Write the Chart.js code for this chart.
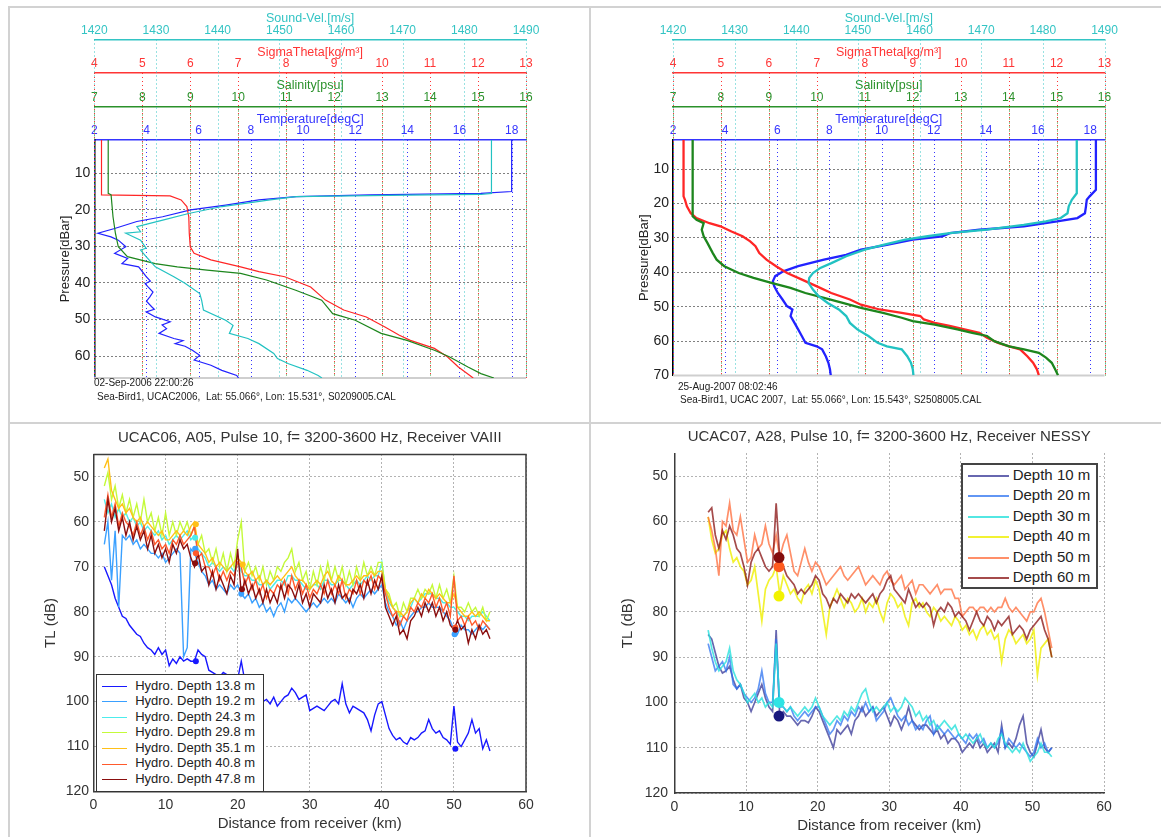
<!DOCTYPE html>
<html lang="en">
<head>
<meta charset="UTF-8" />
<title>CTD profiles and transmission loss</title>
<script src="https://cdn.jsdelivr.net/npm/chart.js@4"></script>
<style>
  body { margin: 0; background: #fff; }
  #page { position: relative; width: 1161px; height: 837px; overflow: hidden; background: #fff;
          font-family: "Liberation Sans", Arial, sans-serif; }
  canvas { position: absolute; }
  .rule { position: absolute; background: #d2d2d2; }
  .note { position: absolute; font-size: 10px; line-height: 12px; color: #222; white-space: pre; }
  .legend { position: absolute; background: #fff; box-sizing: border-box; color: #222; }
  .legend div { white-space: nowrap; }
  .legend .sw { display: inline-block; vertical-align: middle; height: 0; border-top-style: solid; }
  #leg06 { left: 96.3px; top: 674px; width: 167.4px; height: 117.7px; border: 1.5px solid #333; padding-top: 2.5px; }
  #leg06 div { height: 15.6px; line-height: 15.6px; font-size: 13px; }
  #leg06 .sw { width: 25px; margin: 0 7.7px 0 5.2px; border-top-width: 1.5px; }
  #leg07 { left: 961px; top: 462.7px; width: 137.3px; height: 126.3px; border: 2px solid #444; padding-top: 0; }
  #leg07 div { height: 20.5px; line-height: 20.5px; font-size: 15px; }
  #leg07 .sw { width: 41px; margin: 0 3.7px 0 5px; border-top-width: 2.5px; }
</style>
</head>
<body>
<div id="page">
  <canvas id="ctd06" width="589" height="422" style="left:0px;top:0px"></canvas>
  <canvas id="ctd07" width="570" height="422" style="left:591px;top:0px"></canvas>
  <canvas id="tl06" width="589" height="413" style="left:0px;top:424px"></canvas>
  <canvas id="tl07" width="570" height="413" style="left:591px;top:424px"></canvas>

  <div class="note" style="left:94px;top:377px">02-Sep-2006 22:00:26</div>
  <div class="note" style="left:97px;top:391px">Sea-Bird1, UCAC2006,  Lat: 55.066°, Lon: 15.531°, S0209005.CAL</div>
  <div class="note" style="left:678px;top:381px">25-Aug-2007 08:02:46</div>
  <div class="note" style="left:680px;top:394px">Sea-Bird1, UCAC 2007,  Lat: 55.066°, Lon: 15.543°, S2508005.CAL</div>

  <div id="leg06" class="legend"></div>
  <div id="leg07" class="legend"></div>

  <div class="rule" style="left:8px;top:6px;width:1153px;height:2px"></div>
  <div class="rule" style="left:8px;top:6px;width:2px;height:831px"></div>
  <div class="rule" style="left:589px;top:6px;width:2px;height:831px"></div>
  <div class="rule" style="left:8px;top:422px;width:1153px;height:2px"></div>
</div>

<script>
// ---------- tick values ----------
const sndTicks = [1420, 1430, 1440, 1450, 1460, 1470, 1480, 1490];
const sigTicks = [4, 5, 6, 7, 8, 9, 10, 11, 12, 13];
const salTicks = [7, 8, 9, 10, 11, 12, 13, 14, 15, 16];
const temTicks = [2, 4, 6, 8, 10, 12, 14, 16, 18];
const p06Ticks = [10, 20, 30, 40, 50, 60];
const p07Ticks = [10, 20, 30, 40, 50, 60, 70];
const kmTicks = [0, 10, 20, 30, 40, 50, 60];
const dbTicks = [50, 60, 70, 80, 90, 100, 110, 120];

// ---------- CTD cast 02-Sep-2006 (pressure dBar / value) ----------
const c06TempP = [0.9,15.0,15.5,15.9,16.4,17.3,18.7,20.0,21.9,23.2,25.1,26.4,27.4,28.3,30.1,31.9,33.3,34.7,35.6,38.3,39.5,40.2,41.1,42.5,43.8,45.0,46.5,47.2,47.9,49.3,50.6,51.5,52.5,53.8,55.2,55.8,56.6,57.3,58.4,59.8,61.1,62.5,63.9,65.3,66.0];
const c06TempV = [18.0,18.0,16.82,12.57,9.74,8.31,7.04,5.69,4.62,3.63,2.78,2.14,2.64,2.92,3.21,2.78,3.28,3.06,3.70,3.99,4.15,3.95,4.06,4.25,4.13,4.0,4.20,4.30,3.99,4.34,4.91,4.60,4.77,4.48,5.05,5.40,5.10,5.48,5.76,6.04,5.83,6.47,6.89,7.46,7.53];
const c06SalP = [0.9,15.5,15.9,21.9,26.4,30.1,32.8,34.7,35.6,36.5,37.4,39.2,42.0,44.7,48.4,50.2,53.8,55.7,58.4,60.2,63.0,64.8,66.0];
const c06SalV = [7.29,7.29,7.35,7.39,7.44,7.50,7.69,8.27,8.73,9.35,10.05,10.59,11.20,11.74,11.97,12.44,12.98,13.52,14.09,14.40,14.79,15.06,15.33];
const c06SigP = [0.9,15.9,16.2,17.3,19.1,21.9,26.4,30.1,31.9,33.7,35.6,36.9,38.3,41.1,44.7,47.4,49.3,52.0,54.3,55.7,57.9,60.2,63.0,66.0];
const c06SigV = [4.15,4.15,5.58,5.81,5.93,5.97,5.98,6.00,6.08,6.43,7.05,7.43,7.97,8.51,8.82,9.20,9.67,10.05,10.36,10.59,11.09,11.36,11.59,11.90];
const c06SndP = [0.9,15.5,15.8,16.0,16.4,17.3,19.1,21.0,22.8,24.6,26.0,26.4,28.3,30.5,31.0,32.8,35.6,38.3,40.1,42.9,44.7,47.4,50.2,51.6,53.8,55.2,56.6,59.3,60.7,62.1,63.9,65.3,66.0];
const c06SndV = [1484.4,1484.4,1482.7,1470.7,1452.7,1448.5,1440.7,1435.3,1431.1,1426.9,1427.5,1425.1,1427.5,1428.4,1427.5,1428.4,1429.9,1432.9,1434.7,1437.1,1437.4,1437.7,1441.3,1442.5,1441.9,1444.9,1446.7,1449.1,1449.7,1451.5,1454.5,1456.3,1456.9];

// ---------- CTD cast 25-Aug-2007 ----------
const c07TempP = [1.5,16.0,17.9,18.9,20.8,22.8,24.2,25.2,26.6,27.6,28.6,29.5,30.5,32.0,33.4,34.9,36.3,38.2,39.7,41.1,42.6,44.0,46.0,47.9,49.8,50.8,52.7,54.7,56.6,58.5,60.5,61.5,62.4,64.4,66.3,68.2,69.9];
const c07TempV = [18.22,18.22,17.98,17.87,17.84,17.80,17.51,16.73,15.46,13.75,12.62,12.33,11.20,10.20,9.21,8.64,7.79,6.80,6.23,5.92,5.83,5.88,6.02,6.20,6.37,6.58,6.51,6.66,6.80,6.94,7.08,7.51,7.72,7.86,7.96,8.02,8.05];
const c07SalP = [1.5,23.7,24.7,25.7,27.6,29.5,31.5,34.4,36.3,38.2,40.2,41.6,43.1,44.5,46.0,47.4,48.9,50.3,51.8,53.2,54.2,55.2,56.6,57.6,58.5,60.0,61.5,62.4,63.4,64.8,66.3,68.2,69.9];
const c07SalV = [7.41,7.41,7.49,7.64,7.60,7.64,7.72,7.83,7.91,8.07,8.37,8.68,9.07,9.45,9.76,10.15,10.54,10.92,11.38,11.77,12.00,12.46,12.93,13.24,13.55,13.70,14.01,14.32,14.63,14.78,14.90,14.97,15.03];
const c07SigP = [1.5,17.9,18.9,20.8,22.8,24.2,25.7,26.6,28.1,29.5,31.0,32.4,34.4,36.3,38.2,40.2,42.1,44.0,46.0,47.9,49.4,50.8,51.8,52.7,53.7,54.7,55.6,56.6,57.6,59.0,60.5,61.5,62.4,64.4,66.3,68.2,69.9];
const c07SigV = [4.22,4.22,4.25,4.29,4.37,4.49,4.76,4.99,5.22,5.45,5.61,5.72,5.80,5.95,6.15,6.38,6.69,6.99,7.30,7.69,7.92,8.31,8.77,9.16,9.23,9.46,9.77,10.08,10.39,10.55,10.78,11.01,11.24,11.39,11.51,11.59,11.63];
const c07SndP = [1.5,17.0,18.9,20.8,22.8,24.2,25.2,26.2,27.6,28.6,29.5,30.5,32.0,33.4,35.3,37.3,38.7,40.2,41.6,43.1,45.0,46.9,48.9,50.8,52.7,54.7,56.6,58.5,60.5,61.5,62.4,64.4,66.3,68.2,69.9];
const c07SndV = [1485.5,1485.5,1484.7,1484.2,1484.0,1482.9,1480.5,1476.9,1470.9,1464.9,1461.3,1457.7,1454.1,1451.1,1448.1,1445.7,1443.9,1442.7,1442.1,1442.0,1442.7,1443.6,1445.1,1446.9,1448.1,1448.7,1449.9,1451.7,1453.2,1454.7,1457.1,1458.0,1458.6,1458.9,1459.0];

// ---------- TL, UCAC06 receiver VAIII ----------
const km06 = [1.5,2,2.5,3,3.5,4,4.5,5,5.5,6,
  6.5,7,7.5,8,8.5,9,9.5,10,10.5,11,
  11.5,12,12.5,13,13.5,14,14.5,15,15.5,16,
  16.5,17,17.5,18,18.5,19,19.5,20,20.5,21,
  21.5,22,22.5,23,23.5,24,24.5,25,25.5,26,
  26.5,27,27.5,28,28.5,29,29.5,30,30.5,31,
  31.5,32,32.5,33,33.5,34,34.5,35,35.5,36,
  36.5,37,37.5,38,38.5,39,39.5,40,40.5,41,
  41.5,42,42.5,43,43.5,44,44.5,45,45.5,46,
  46.5,47,47.5,48,48.5,49,49.5,50,50.5,51,
  51.5,52,52.5,53,53.5,54,54.5,55];
const tl06Labels = ['Hydro. Depth 13.8 m', 'Hydro. Depth 19.2 m', 'Hydro. Depth 24.3 m', 'Hydro. Depth 29.8 m',
  'Hydro. Depth 35.1 m', 'Hydro. Depth 40.8 m', 'Hydro. Depth 47.8 m'];
const d06_138 = [70,72,74,77,79,81,81.5,83,84,85,
  85.5,87,88,88.5,89.5,88,89.5,88.5,92,90.5,
  91.5,90,91,90.5,91,91,88.5,89.5,90,93,
  93.5,94,94.5,93.5,94,94.5,94,95,91,95.5,
  96,97,98,99,100,99.5,100.5,99,101,100,
  99,98.5,97,98,99.5,99,98.5,102,101.5,101,
  101.5,102,101,100,99.5,100.5,96,100.5,102.5,101,
  101.5,102,102.5,104,106.5,103,100.5,100,103,106,
  107.5,108.5,108,109,109.5,108,108.5,108,107,106.5,
  104,106,107,106.5,108,108.5,109.5,101,109,110,
  108.5,107,104,107,106,110.5,108.5,111];
const d06_192 = [65,60,73,62,79,63,64,63,65,64,
  66,65,66,67,67,68,67,69,68,67,
  66,67,90,88,66,67,69,71,72,74,
  73,75,74,75,76,74,75,74,76,77,
  76,78,77,79,78,80,79,81,79,78,
  80,77,78,77,78,79,80,79,78,79,
  78,77,78,77,78,76,77,78,77,79,
  77,76,77,76,75,76,75,74,78,80,
  81,83,82,84,82,81,80,80,79,79,
  78,79,79,79,80,81,82,84,85,83,
  84,84,85,84,83,84,83,84];
const d06_243 = [55,58,56,59,57,59,58,60,59,61,
  60,62,61,62,63,62,64,63,65,64,
  63,64,63,62,64,63,66,67,68,70,
  69,70,71,70,71,70,71,69,71,72,
  72,73,73,74,74,73,75,74,73,73,
  74,72,72,73,73,74,75,75,74,74,
  75,73,73,74,74,73,73,74,75,74,
  73,74,73,72,73,72,72,69,75,78,
  79,80,81,81,80,79,77,78,77,76,
  76,76,77,77,78,78,79,79,80,81,
  81,82,81,81,81,80,81,82];
const d06_298 = [52,49,55,52,57,54,58,55,59,56,
  60,55,60,58,62,59,63,58,63,60,
  63,60,62,60,63,61,65,63,67,66,
  69,66,70,67,71,67,70,64,60,71,
  69,72,70,73,70,74,71,73,70,71,
  69,68,66,71,69,73,71,75,71,74,
  70,73,69,73,70,73,70,74,71,74,
  70,73,69,72,70,72,69,69,75,76,
  79,78,81,78,80,77,77,75,77,75,
  76,74,77,74,77,75,78,72,79,79,
  80,78,80,79,81,79,82,80];
const d06_351 = [48,46,53,55,57,56,58,57,59,60,
  59,61,60,61,62,63,62,64,64,63,
  62,63,62,63,61,60,65,66,67,69,
  68,70,69,70,71,70,69,68,69,71,
  72,71,73,72,74,73,74,73,72,73,
  72,71,70,72,73,73,74,75,74,73,
  74,72,71,73,74,72,73,74,74,73,
  72,73,72,72,71,72,71,71,75,77,
  79,80,80,81,80,78,77,78,76,77,
  75,76,77,76,77,78,78,76,79,80,
  81,81,80,81,80,81,82,82];
const d06_408 = [59,54,59,56,61,58,60,61,63,60,
  63,61,64,62,65,64,66,65,67,64,
  65,63,65,64,63,61,68,67,70,70,
  72,70,73,71,73,71,72,69,70,74,
  72,75,73,76,74,77,75,76,74,75,
  73,76,72,75,73,76,74,77,75,76,
  74,76,73,76,74,76,73,77,75,76,
  73,76,73,74,72,75,72,73,76,79,
  81,80,83,81,82,79,80,78,79,77,
  78,76,79,77,80,78,81,72,82,81,
  83,81,83,82,84,82,83,84];
const d06_478 = [62,55,60,57,62,59,63,60,64,61,
  64,62,66,63,67,65,68,66,69,65,
  67,64,66,65,68,70,67,71,70,74,
  71,75,72,74,76,72,74,66,76,73,
  76,74,77,75,78,75,78,76,78,74,
  77,74,75,77,74,78,76,79,76,77,
  78,74,77,75,78,74,77,76,78,75,
  76,74,77,73,76,73,75,72,79,81,
  83,81,85,84,86,82,81,79,81,78,
  80,78,81,79,82,80,83,84,82,84,
  83,87,84,86,83,85,84,86];
// marked pulse positions: km, dB, index of the hydrophone line
const dot06Km = [14.2, 50.2, 14.1, 20.5, 50.1, 14.1, 14.2, 20.7, 14.2, 50.2, 14.1, 20.6, 50.2];
const dot06Db = [91, 110.5, 66, 76, 85, 63.5, 60.5, 69.5, 67, 83.5, 69.2, 75, 84];
const dot06Line = [0, 0, 1, 1, 1, 2, 4, 4, 5, 5, 6, 6, 6];

// ---------- TL, UCAC07 receiver NESSY ----------
const km07 = [4.7,5.2,5.7,6.2,6.7,7.2,7.7,8.2,8.7,9.2,
  9.7,10.2,10.7,11.2,11.7,12.2,12.7,13.2,13.7,14.2,
  14.7,15.2,15.7,16.2,16.7,17.2,17.7,18.2,18.7,19.2,
  19.7,20.2,20.7,21.2,21.7,22.2,22.7,23.2,23.7,24.2,
  24.7,25.2,25.7,26.2,26.7,27.2,27.7,28.2,28.7,29.2,
  29.7,30.2,30.7,31.2,31.7,32.2,32.7,33.2,33.7,34.2,
  34.7,35.2,35.7,36.2,36.7,37.2,37.7,38.2,38.7,39.2,
  39.7,40.2,40.7,41.2,41.7,42.2,42.7,43.2,43.7,44.2,
  44.7,45.2,45.7,46.2,46.7,47.2,47.7,48.2,48.7,49.2,
  49.7,50.2,50.7,51.2,51.7,52.2,52.7];
const tl07Labels = ['Depth 10 m', 'Depth 20 m', 'Depth 30 m', 'Depth 40 m', 'Depth 50 m', 'Depth 60 m'];
const d07_10 = [85,86,89,92,93.5,93,92,95,97,96,
  99,100,102,100,98,96,99,101,102,84,
  103,102,103,103,104,105,104,104,104.5,103,
  101,102,104,106,108,110,106,107,106,105,
  107,104,103,101,103,102,101,103,102,101,
  103,105,103,104,106,104,101,104,105,106,
  105,105,106,107,106,108,107,109,108,108,
  109,111,110,109,110,108,110,109,111,110,
  109,111,105,110,109,110,108,105,103,109,
  111,112,109,106,110,111,110];
const d07_20 = [87,90,93,92,91,93,90,96,97,96,
  98,99,100,99,97,93,98,100,100,86,
  101,101,102,101,103,104,103,102,103,102,
  101,101,103,105,107,106,104,105,103,104,
  102,103,101,102,100,102,101,104,103,102,
  100,99,101,103,104,103,105,104,106,105,
  106,104,103,107,105,106,107,106,107,108,
  107,108,109,107,108,107,109,108,110,109,
  110,109,106,110,108,109,110,109,110,111,
  112,111,108,110,109,111,110];
const d07_30 = [84,88,91,93,92,91,88,93,95,96,
  98,100,99,98,100,99,101,100,101,87,
  100,101,102,101,102,103,102,101,102,101,
  99,101,103,104,105,104,103,104,102,103,
  101,102,100,98,97,100,102,101,102,101,
  100,102,101,102,101,99,100,101,103,102,
  104,103,105,104,106,105,104,105,106,105,
  107,108,107,108,109,108,107,109,110,109,
  110,108,107,109,110,111,110,111,109,111,
  113,112,111,109,111,111,112];
const d07_40 = [59,64,67,66,63,62,66,69,68,70,
  71,74,73,70,76,82,75,73,72,70,
  76,72,74,76,75,77,78,75,74,76,
  73,75,80,85,79,77,75,77,79,77,
  78,80,79,77,80,78,79,77,80,82,
  78,76,77,79,78,81,83,78,77,79,
  78,80,81,79,80,82,81,82,83,81,
  82,84,83,85,84,86,84,83,85,84,
  86,85,91,86,84,85,87,86,85,87,
  86,84,94,88,87,86,90];
const d07_50 = [59,62,66,72,60,61,56,62,63,59,
  64,69,68,63,66,65,61,65,67,63,
  68,65,63,67,71,72,69,66,69,71,
  69,70,72,74,73,72,71,70,72,73,
  72,71,70,72,74,73,72,73,74,72,
  71,73,74,73,72,75,74,73,76,74,
  74,75,76,75,74,76,75,75,75,77,
  77,81,80,79,79,80,79,79,80,79,
  80,79,79,77,79,80,79,80,81,82,
  80,80,78,77,80,84,88];
const d07_60 = [58,57,63,66,62,64,61,63,66,67,
  70,74,69,67,66,68,70,71,70,56,
  68,70,72,73,74,76,75,76,75,74,
  72,73,76,77,79,77,78,76,77,78,
  76,77,76,77,78,77,76,78,76,75,
  73,72,75,76,77,78,75,77,79,78,
  79,78,79,83,80,79,80,78,79,81,
  80,81,82,84,82,80,82,83,81,82,
  84,82,83,82,81,85,84,83,84,86,
  84,83,82,81,84,86,90];
const dot07Km = [14.6, 14.6, 14.6, 14.6, 14.6];
const dot07Db = [103, 100, 76.5, 70, 68];
const dot07Line = [0, 2, 3, 4, 5];

// ---------- styles ----------
const FONT = "'Liberation Sans', Arial, sans-serif";
Chart.defaults.font.family = FONT;
Chart.defaults.color = '#2a2a2a';
Chart.defaults.animation = false;
Chart.defaults.plugins.legend.display = false;
Chart.defaults.plugins.tooltip.enabled = false;

const ctdAxes = [
  {id: 'snd', title: 'Sound-Vel.[m/s]', color: '#33c4c4', min: 1420, max: 1490, ticks: sndTicks, weight: 4},
  {id: 'sig', title: 'SigmaTheta[kg/m\u00b3]', color: '#ff3535', min: 4, max: 13, ticks: sigTicks, weight: 3},
  {id: 'sal', title: 'Salinity[psu]', color: '#2b912b', min: 7, max: 16, ticks: salTicks, weight: 2},
  {id: 'tem', title: 'Temperature[degC]', color: '#3535ff', min: 2, max: 18.55, ticks: temTicks, weight: 1}
];
const lineColors06 = ['#1818ff', '#3aa0ff', '#4cecec', '#c4fa3a', '#ffc018', '#ff5a2c', '#8a0e0e'];
const lineColors07 = ['rgba(45,45,145,0.72)', 'rgba(45,115,240,0.75)', 'rgba(40,225,220,0.8)',
  'rgba(240,240,15,0.85)', 'rgba(255,105,55,0.75)', 'rgba(135,15,15,0.75)'];
const dotColors07 = ['#18187e', '#2ee4e4', '#f2f200', '#ff5a1e', '#840c0c'];

// dotted vertical grid from every top axis down through the plot
const ctdGrid = {
  id: 'ctdGrid',
  beforeDatasetsDraw(chart) {
    const {ctx, chartArea} = chart;
    ctx.save();
    ctx.lineWidth = 1;
    ctx.setLineDash([1, 3]);
    ctdAxes.forEach(a => {
      const s = chart.scales[a.id];
      ctx.strokeStyle = a.color;
      s.ticks.forEach(t => {
        const x = Math.round(s.getPixelForValue(t.value)) + 0.5;
        ctx.beginPath();
        ctx.moveTo(x, s.bottom);
        ctx.lineTo(x, chartArea.bottom);
        ctx.stroke();
      });
    });
    ctx.setLineDash([]);
    ctx.strokeStyle = '#cfcfcf';
    ctx.lineWidth = 2;
    ctx.beginPath();
    ctx.moveTo(chartArea.left, chartArea.bottom);
    ctx.lineTo(chartArea.right, chartArea.bottom);
    ctx.stroke();
    ctx.restore();
  }
};

const boxFrame = {
  id: 'boxFrame',
  afterDraw(chart) {
    const {ctx, chartArea: a} = chart;
    ctx.save();
    ctx.strokeStyle = '#3c3c3c';
    ctx.lineWidth = 1.5;
    ctx.beginPath();
    ctx.moveTo(a.left, a.top);
    ctx.lineTo(a.right, a.top);
    ctx.lineTo(a.right, a.bottom);
    ctx.stroke();
    ctx.restore();
  }
};

function fixedTicks(list) {
  return s => { s.ticks = list.map(v => ({value: v})); };
}

function profile(P, V, axis, color, width) {
  return {
    data: P.map((p, i) => ({x: V[i], y: p})),
    xAxisID: axis, yAxisID: 'y', showLine: true, borderColor: color,
    borderWidth: width, pointRadius: 0, fill: false, tension: 0
  };
}

function ctdChart(id, cast, pMin, pMax, pTicks, lay) {
  const scales = {};
  ctdAxes.forEach(a => {
    scales[a.id] = {
      type: 'linear', position: 'top', weight: a.weight, min: a.min, max: a.max,
      afterBuildTicks: fixedTicks(a.ticks),
      afterFit: s => { s.height = 33.5; },
      grid: {display: false, drawTicks: false},
      border: {display: true, color: a.color, width: 1.5},
      ticks: {color: a.color, font: {size: 12}, padding: 2, autoSkip: false, maxRotation: 0,
              callback: v => String(v)},
      title: {display: true, text: a.title, color: a.color, font: {size: 12.5}, padding: {top: 5.5, bottom: 0}}
    };
  });
  scales.y = {
    type: 'linear', position: 'left', reverse: true, min: pMin, max: pMax,
    afterBuildTicks: fixedTicks(pTicks),
    afterFit: s => { s.width = lay.yW; },
    grid: {color: '#000', drawTicks: false, lineWidth: 1},
    border: {color: '#000', width: 1.5, dash: [1, 3]},
    ticks: {font: {size: 14}, color: '#222', padding: 4, callback: v => String(v)},
    title: {display: true, text: 'Pressure[dBar]', font: {size: 13}, color: '#222', padding: {top: lay.yTitlePad}}
  };
  new Chart(document.getElementById(id), {
    type: 'scatter',
    data: {
      datasets: [
        profile(cast.snd[0], cast.snd[1], 'snd', '#22c2c2', lay.w),
        profile(cast.sal[0], cast.sal[1], 'sal', '#1d861d', lay.w),
        profile(cast.sig[0], cast.sig[1], 'sig', '#ff2626', lay.w),
        profile(cast.tem[0], cast.tem[1], 'tem', '#2222ff', lay.w)
      ]
    },
    options: {
      responsive: false,
      layout: {padding: {left: 0, top: 6, right: lay.right, bottom: lay.bottom}},
      scales: scales
    },
    plugins: [ctdGrid]
  });
}

ctdChart('ctd06', {tem: [c06TempP, c06TempV], sal: [c06SalP, c06SalV], sig: [c06SigP, c06SigV], snd: [c06SndP, c06SndV]},
  0.9, 66, p06Ticks, {yW: 94.3, yTitlePad: 58, right: 63, bottom: 44, w: 1.2});
ctdChart('ctd07', {tem: [c07TempP, c07TempV], sal: [c07SalP, c07SalV], sig: [c07SigP, c07SigV], snd: [c07SndP, c07SndV]},
  1.5, 70, p07Ticks, {yW: 82, yTitlePad: 46, right: 56.5, bottom: 46.5, w: 2.3});

function tlChart(id, o) {
  const datasets = o.series.map((vals, i) => ({
    label: o.labels[i],
    data: o.km.map((k, j) => ({x: k, y: vals[j]})),
    showLine: true, borderColor: o.colors[i], borderWidth: o.w,
    pointRadius: 0, fill: false, tension: 0, order: o.series.length - i
  }));
  datasets.push({
    label: 'pulse',
    data: o.dotKm.map((k, j) => ({x: k, y: o.dotDb[j]})),
    showLine: false, pointRadius: o.dotR, pointBorderWidth: 0,
    pointBackgroundColor: o.dotLine.map((li, j) => o.dotColors ? o.dotColors[j] : o.colors[li]),
    pointBorderColor: 'rgba(0,0,0,0)', order: 0
  });
  new Chart(document.getElementById(id), {
    type: 'scatter',
    data: {datasets},
    options: {
      responsive: false,
      layout: {padding: {left: 0, top: 0, right: o.right, bottom: 0}},
      plugins: {
        title: {display: true, text: o.title, fullSize: false, color: '#333', font: {size: 15, weight: 'normal'},
                padding: {top: o.tTop, bottom: o.tBottom}}
      },
      scales: {
        x: {
          type: 'linear', position: 'bottom', min: 0, max: 60,
          afterBuildTicks: fixedTicks(kmTicks),
          afterFit: s => { s.height = o.xH; },
          grid: {color: 'rgba(0,0,0,0.6)', drawTicks: false},
          border: {color: '#3c3c3c', width: 1.5, dash: [1, 3]},
          ticks: {font: {size: 14}, color: '#333', padding: o.xPad, maxRotation: 0, autoSkip: false,
                  callback: v => String(v)},
          title: {display: true, text: 'Distance from receiver (km)', font: {size: 15}, color: '#333',
                  padding: {top: 0, bottom: o.xTitlePad}}
        },
        y: {
          type: 'linear', position: 'left', reverse: true, min: 45, max: 120,
          afterBuildTicks: fixedTicks(dbTicks),
          afterFit: s => { s.width = o.yW; },
          grid: {color: 'rgba(0,0,0,0.6)', drawTicks: false},
          border: {color: '#3c3c3c', width: 1.5, dash: [1, 3]},
          ticks: {font: {size: 14}, color: '#333', padding: o.yPad, callback: v => String(v)},
          title: {display: true, text: 'TL (dB)', font: {size: 15}, color: '#333', padding: {top: o.yTitlePad}}
        }
      }
    },
    plugins: o.box ? [boxFrame] : []
  });
}

tlChart('tl06', {
  title: 'UCAC06, A05, Pulse 10, f= 3200-3600 Hz, Receiver VAIII',
  km: km06, labels: tl06Labels, colors: lineColors06,
  series: [d06_138, d06_192, d06_243, d06_298, d06_351, d06_408, d06_478],
  dotKm: dot06Km, dotDb: dot06Db, dotLine: dot06Line, dotR: 3,
  w: 1.4, right: 63, tTop: 4.5, tBottom: 8, xH: 45.5, xPad: 5.6, xTitlePad: 4,
  yW: 93.5, yPad: 4.5, yTitlePad: 42, box: true
});
tlChart('tl07', {
  title: 'UCAC07, A28, Pulse 10, f= 3200-3600 Hz, Receiver NESSY',
  km: km07, labels: tl07Labels, colors: lineColors07,
  series: [d07_10, d07_20, d07_30, d07_40, d07_50, d07_60],
  dotKm: dot07Km, dotDb: dot07Db, dotLine: dot07Line, dotColors: dotColors07, dotR: 5.5,
  w: 1.7, right: 57, tTop: 3.7, tBottom: 7.8, xH: 44, xPad: 5.3, xTitlePad: 2.3,
  yW: 83.5, yPad: 6.5, yTitlePad: 28, box: false
});

// html legends built from the label and colour lists
function htmlLegend(el, labels, colors) {
  labels.forEach((t, i) => {
    const row = document.createElement('div');
    const sw = document.createElement('span');
    sw.className = 'sw';
    sw.style.borderTopColor = colors[i];
    row.appendChild(sw);
    row.appendChild(document.createTextNode(t));
    el.appendChild(row);
  });
}
htmlLegend(document.getElementById('leg06'), tl06Labels, lineColors06);
htmlLegend(document.getElementById('leg07'), tl07Labels, lineColors07);
</script>
</body>
</html>
